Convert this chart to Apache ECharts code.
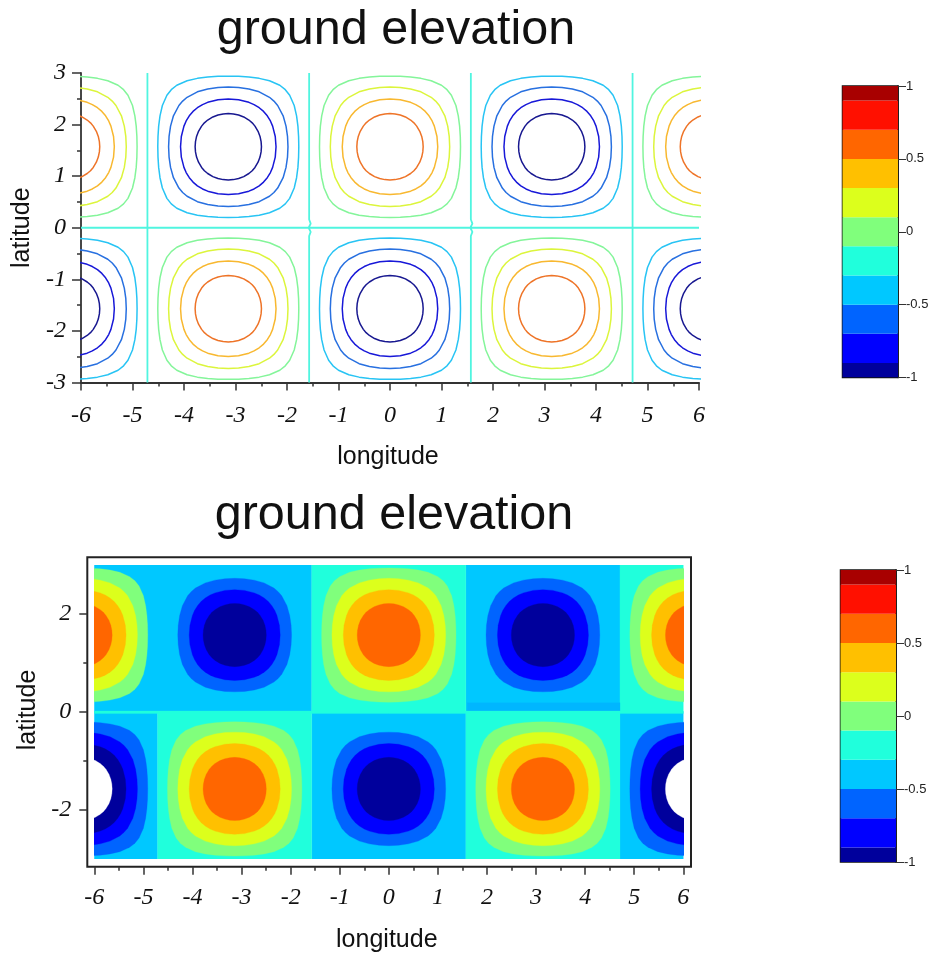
<!DOCTYPE html>
<html><head><meta charset="utf-8">
<style>html,body{margin:0;padding:0;background:#fff}#c{width:928px;height:953px}</style>
<script src="https://cdn.jsdelivr.net/npm/echarts@6/dist/echarts.min.js"></script>
</head><body><div id="c"></div>
<script>
// Quarter arcs of each contour loop, [longitude offset, latitude offset]
const arc02 = [[1.369,0],[1.365,.2],[1.352,.4],[1.326,.6],[1.28,.8],[1.192,1],[1.107,1.107],[1,1.192],[.8,1.28],[.6,1.326],[.4,1.352],[.2,1.365],[0,1.369]];
const arc04 = [[1.159,0],[1.15,.2],[1.121,.4],[1.065,.6],[.959,.8],[.886,.886],[.8,.959],[.6,1.065],[.4,1.121],[.2,1.15],[0,1.159]];
const arc06 = [[.927,0],[.912,.2],[.861,.4],[.818,.5],[.757,.6],[.685,.685],[.6,.757],[.5,.818],[.4,.861],[.2,.912],[0,.927]];
const arc08 = [[.644,0],[.637,.1],[.616,.2],[.578,.3],[.518,.4],[.464,.464],[.4,.518],[.3,.578],[.2,.616],[.1,.637],[0,.644]];
// Cell centres
const warmCells = [[-6.28,1.57],[0,1.57],[6.28,1.57],[-3.14,-1.57],[3.14,-1.57]];
const coldCells = [[-3.14,1.57],[3.14,1.57],[-6.28,-1.57],[0,-1.57],[6.28,-1.57]];
const edgeColdCells = [[-6.28,-1.57],[6.28,-1.57]];
const innerColdCells = [[-3.14,1.57],[3.14,1.57],[0,-1.57]];
// Zero contour
const zeroVerticals = [-4.71,4.71];
const zeroKinked = [-1.57,1.57];
const kinkOffsets = [[0,3],[0,.16],[.03,.08],[-.01,0],[.03,-.08],[0,-.16],[0,-3]];
// Colour bar
const barEdges = [-1,-.9,-.7,-.5,-.3,-.1,.1,.3,.5,.7,.9,1];
const barColors = ['#00009c','#0000ff','#0064ff','#00c8ff','#20ffdc','#80ff7c','#dcff1c','#ffc000','#ff6600','#ff1000','#a80000'];
// Filled background blocks: [lon0, lon1, lat0, lat1]
const cyanBlocks = [[-6,-1.57,0,3.02],[1.57,4.71,0,3.02],[-6,-4.71,-3.02,0],[-1.57,1.57,-3.02,0],[4.71,6,-3.02,0]];
const tealBlocks = [[-1.57,1.57,0,3.02],[4.71,6,0,3.02],[-4.71,-1.57,-3.02,0],[1.57,4.71,-3.02,0],[-6,6,-.03,.02]];
const deepBlocks = [[1.6,4.71,.02,.19]];
const titleText = 'ground elevation';
const xName = 'longitude', yName = 'latitude';

const AZ='#0064ff',BL='#0000ff',NV='#00009c',CY='#00c8ff',TL='#20ffdc',GR='#80ff7c',YE='#dcff1c',AM='#ffc000',OR='#ff6600';

function loop(c, arc){
  const pts=[];
  arc.forEach(p=>pts.push([c[0]+p[0],c[1]+p[1]]));
  arc.slice(1).forEach(p=>pts.push([c[0]-p[1],c[1]+p[0]]));
  arc.slice(1).forEach(p=>pts.push([c[0]-p[0],c[1]-p[1]]));
  arc.slice(1).forEach(p=>pts.push([c[0]+p[1],c[1]-p[0]]));
  return pts;
}
function many(cells, arc){
  const out=[];
  cells.forEach(c=>{loop(c,arc).forEach(p=>out.push(p));out.push(['-','-']);});
  return out;
}
const serif='"Liberation Serif","Times New Roman",serif', sans='"Liberation Sans",Arial,sans-serif';
const ink='#333';

function lineSeries(data,color,w){
  return {type:'line',xAxisIndex:0,yAxisIndex:0,data,showSymbol:false,symbol:'none',smooth:false,clip:true,silent:true,animation:false,
    lineStyle:{color,width:w||1.5},connectNulls:false};
}
const zeroData=[];
zeroVerticals.forEach(x=>{zeroData.push([x,3],[x,-3],['-','-']);});
zeroKinked.forEach(x=>{kinkOffsets.forEach(k=>zeroData.push([x+k[0],k[1]]));zeroData.push(['-','-']);});
zeroData.push([-6,0],[6,0]);

const topSeries=[
  lineSeries(zeroData,'#50f5e0',1.8),
  lineSeries(many(warmCells,arc02),'#84f59a'),
  lineSeries(many(warmCells,arc04),'#dcf53c'),
  lineSeries(many(warmCells,arc06),'#f8b830'),
  lineSeries(many(warmCells,arc08),'#ee7428'),
  lineSeries(many(coldCells,arc02),'#28c4f4'),
  lineSeries(many(coldCells,arc04),'#2870e0'),
  lineSeries(many(coldCells,arc06),'#1818d8'),
  lineSeries(many(coldCells,arc08),'#181890')
];

function block(b){return [[b[0],b[2]],[b[1],b[2]],[b[1],b[3]],[b[0],b[3]]];}
const shapes=[];
cyanBlocks.forEach(b=>shapes.push({pts:block(b),fill:CY}));
tealBlocks.slice(0,4).forEach(b=>shapes.push({pts:block(b),fill:TL}));
deepBlocks.forEach(b=>shapes.push({pts:block(b),fill:'#00b6ff'}));
shapes.push({pts:block(tealBlocks[4]),fill:TL});
warmCells.forEach(c=>{
  [[arc02,GR],[arc04,YE],[arc06,AM],[arc08,OR]].forEach(a=>shapes.push({pts:loop(c,a[0]),fill:a[1]}));
});
innerColdCells.forEach(c=>{
  [[arc04,AZ],[arc06,BL],[arc08,NV]].forEach(a=>shapes.push({pts:loop(c,a[0]),fill:a[1]}));
});
edgeColdCells.forEach(c=>{
  [[arc02,AZ],[arc04,BL],[arc06,NV],[arc08,'#ffffff']].forEach(a=>shapes.push({pts:loop(c,a[0]),fill:a[1]}));
});

const fillSeries={type:'custom',xAxisIndex:1,yAxisIndex:1,clip:true,silent:true,animation:false,
  data:shapes.map((s,i)=>[i]),
  renderItem(params,api){
    const s=shapes[params.dataIndex];
    return {type:'polygon',shape:{points:s.pts.map(p=>api.coord(p))},style:{fill:s.fill,stroke:s.fill,lineWidth:.3}};
  }};

function barSeries(xi,yi){
  return {type:'custom',xAxisIndex:xi,yAxisIndex:yi,silent:true,animation:false,clip:true,
    data:barColors.map((c,i)=>[i]),
    renderItem(params,api){
      const i=params.dataIndex;
      const a=api.coord([0,barEdges[i]]),b=api.coord([1,barEdges[i+1]]);
      return {type:'rect',shape:{x:a[0],y:b[1],width:b[0]-a[0],height:a[1]-b[1]},style:{fill:barColors[i]}};
    }};
}
const nameFont={fontFamily:sans,fontSize:25,color:'#111'};
const tickFont={fontFamily:serif,fontStyle:'italic',fontSize:24,color:'#111'};

function barAxes(gi){
  return {
    x:{gridIndex:gi,type:'value',min:0,max:1,show:false},
    y:{gridIndex:gi,type:'value',min:-1,max:1,interval:.5,position:'right',
      axisLine:{show:true,onZero:false,lineStyle:{color:'#111',width:1.5}},
      axisTick:{show:true,length:8,lineStyle:{color:'#333',width:1}},
      axisLabel:{show:true,margin:8,fontFamily:sans,fontSize:13,color:'#222',formatter:v=>String(v)},
      splitLine:{show:false}}
  };
}
const b0=barAxes(3),b1=barAxes(4);
const noBounds={outerBoundsMode:'none'};

const option={
  animation:false,
  backgroundColor:'#fff',
  title:[
    {text:titleText,left:391,top:1,textAlign:'center',textStyle:{fontFamily:sans,fontWeight:'normal',fontSize:48.5,color:'#111'}},
    {text:titleText,left:389,top:486,textAlign:'center',textStyle:{fontFamily:sans,fontWeight:'normal',fontSize:48.5,color:'#111'}}
  ],
  grid:[
    Object.assign({left:81,width:618,top:73,height:309.5},noBounds),
    Object.assign({left:94.3,width:589,top:565,height:294},noBounds),
    Object.assign({left:87.3,width:603.7,top:557.3,height:309.4,show:true,borderColor:'#222',borderWidth:2,backgroundColor:'#fff',z:0},noBounds),
    Object.assign({left:842.5,width:55.5,top:86,height:291.5,show:true,borderColor:'#111',borderWidth:1.5},noBounds),
    Object.assign({left:840.5,width:55.5,top:570,height:292,show:true,borderColor:'#111',borderWidth:1.5},noBounds)
  ],
  xAxis:[
    {gridIndex:0,type:'value',min:-6,max:6,interval:1,position:'bottom',name:xName,nameLocation:'middle',nameGap:62,nameTextStyle:Object.assign({padding:[0,4,0,0]},nameFont),
      axisLine:{show:true,onZero:false,lineStyle:{color:ink,width:1.8}},
      axisTick:{show:true,length:8,lineStyle:{color:ink,width:1.5}},
      minorTick:{show:true,splitNumber:2,length:4,lineStyle:{color:ink,width:1.5}},
      axisLabel:Object.assign({margin:21,formatter:v=>String(v),showMinLabel:true,showMaxLabel:true},tickFont),
      splitLine:{show:false},minorSplitLine:{show:false}},
    {gridIndex:1,type:'value',min:-6,max:6,interval:1,position:'bottom',offset:7.7,name:xName,nameLocation:'middle',nameGap:61,nameTextStyle:Object.assign({padding:[0,4,0,0]},nameFont),
      axisLine:{show:false,onZero:false},
      axisTick:{show:true,length:8,lineStyle:{color:ink,width:1.5}},
      minorTick:{show:true,splitNumber:2,length:4,lineStyle:{color:ink,width:1.5}},
      axisLabel:Object.assign({margin:19,formatter:v=>String(v),showMinLabel:true,showMaxLabel:true},tickFont),
      splitLine:{show:false},minorSplitLine:{show:false}},
    {gridIndex:2,type:'value',min:0,max:1,show:false},
    b0.x,b1.x
  ],
  yAxis:[
    {gridIndex:0,type:'value',min:-3,max:3,interval:1,position:'left',name:yName,nameLocation:'middle',nameGap:43,nameTextStyle:nameFont,
      axisLine:{show:true,onZero:false,lineStyle:{color:ink,width:1.8}},
      axisTick:{show:true,length:9,lineStyle:{color:ink,width:1.5}},
      minorTick:{show:true,splitNumber:2,length:4,lineStyle:{color:ink,width:1.5}},
      axisLabel:Object.assign({margin:15,padding:[4,0,0,0],formatter:v=>String(v),showMinLabel:true,showMaxLabel:true},tickFont),
      splitLine:{show:false},minorSplitLine:{show:false}},
    {gridIndex:1,type:'value',min:-3,max:3,interval:1,position:'left',offset:7,name:yName,nameLocation:'middle',nameGap:40,nameTextStyle:Object.assign({padding:[0,0,0,4]},nameFont),
      axisLine:{show:false,onZero:false},
      axisTick:{show:true,length:8,customValues:[-2,0,2],lineStyle:{color:ink,width:1.5}},
      axisLabel:Object.assign({margin:16,padding:[4,0,0,0],customValues:[-2,0,2],formatter:v=>String(v)},tickFont),
      splitLine:{show:false}},
    {gridIndex:2,type:'value',min:0,max:1,show:false},
    b0.y,b1.y,
    {gridIndex:1,type:'value',min:-3,max:3,interval:1,position:'left',offset:7,
      axisLine:{show:false,onZero:false},
      axisTick:{show:true,length:4,customValues:[-1,1],lineStyle:{color:ink,width:1.5}},
      axisLabel:{show:false},splitLine:{show:false}}
  ],
  series:[...topSeries,fillSeries,barSeries(3,3),barSeries(4,4)]
};
const chart=echarts.init(document.getElementById('c'),null,{renderer:'canvas'});
chart.setOption(option);
</script></body></html>
